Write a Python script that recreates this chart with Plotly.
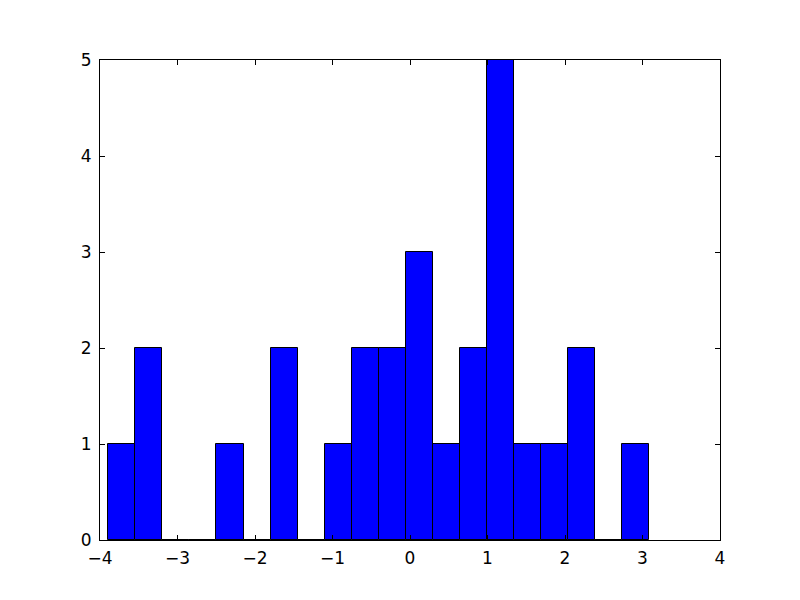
import plotly.graph_objects as go

# Histogram data (20 equal-width bins)
bin_start = -3.893
bin_width = 0.349
counts = [1, 2, 0, 0, 1, 0, 2, 0, 1, 2, 2, 3, 1, 2, 5, 1, 1, 2, 0, 1]

x_ticks = [-4, -3, -2, -1, 0, 1, 2, 3, 4]
x_tick_labels = ["\u22124", "\u22123", "\u22122", "\u22121", "0", "1", "2", "3", "4"]
y_ticks = [0, 1, 2, 3, 4, 5]

centers = [bin_start + bin_width * (i + 0.5) for i in range(len(counts))]

fig = go.Figure()
fig.add_trace(go.Bar(
    x=centers, y=counts, width=[bin_width] * len(counts),
    marker=dict(color="#0000ff", line=dict(color="black", width=1)),
))

axis_common = dict(
    showgrid=False, zeroline=False, showline=True, linecolor="black", linewidth=1,
    mirror="allticks", ticks="inside", ticklen=5, tickcolor="black",
    tickfont=dict(family="DejaVu Sans", size=17, color="black"),
)
fig.update_xaxes(range=[-4, 4], tickvals=x_ticks, ticktext=x_tick_labels,
                 ticklabelstandoff=3, **axis_common)
fig.update_yaxes(range=[0, 5], tickvals=y_ticks, ticklabelstandoff=4, **axis_common)

fig.update_layout(
    width=800, height=600,
    margin=dict(l=92, r=88, t=52, b=68),
    plot_bgcolor="white", paper_bgcolor="white",
    showlegend=False, bargap=0,
)

fig.write_html("out.html")
